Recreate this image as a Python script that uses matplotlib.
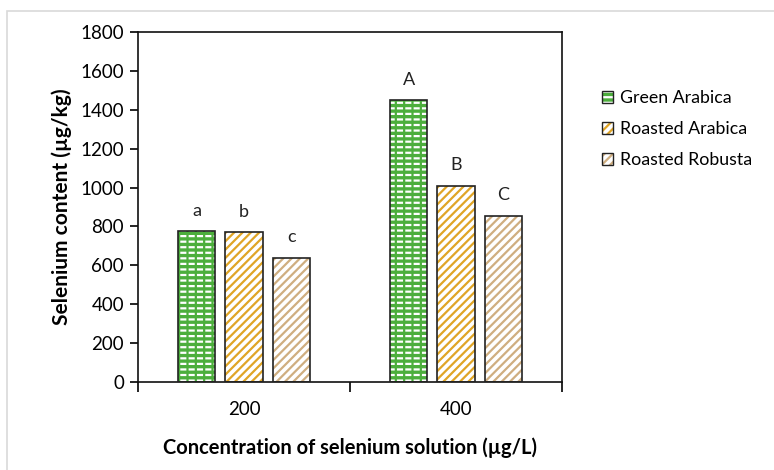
import matplotlib

matplotlib.use("Agg")

import matplotlib.pyplot as plt
import numpy as np
from matplotlib.legend_handler import HandlerTuple
from matplotlib.patches import Patch, Rectangle

concentrations = ["200", "400"]
series = ["Green Arabica", "Roasted Arabica", "Roasted Robusta"]
green_arabica = [775, 1450]
roasted_arabica = [770, 1010]
roasted_robusta = [640, 855]
letters = [["a", "A"], ["b", "B"], ["c", "C"]]

fills = ["#4cae3c", "white", "white"]
hatches = ["---", "////", "////"]
hatch_colors = ["white", "#e0a526", "#cfae80"]

plt.rcParams["font.family"] = ["Lato", "DejaVu Sans"]
plt.rcParams["hatch.linewidth"] = 1.6

fig = plt.figure(figsize=(7.74, 4.70), dpi=100)
ax = fig.add_axes([0.1783, 0.1872, 0.5478, 0.7447])

# light frame round the chart (only top and left edges fall inside the image)
fig.patches.append(Rectangle((7 / 774, -10 / 470), 780 / 774, 469 / 470,
                             transform=fig.transFigure, fill=False,
                             edgecolor="#d9d9d9", linewidth=1.2))

x = np.arange(len(concentrations))
width = 0.175
step = 0.222
handles = []
for i, vals in enumerate([green_arabica, roasted_arabica, roasted_robusta]):
    pos = x + (i - 1) * step
    ax.bar(pos, vals, width, color=fills[i], hatch=hatches[i],
           edgecolor=hatch_colors[i], linewidth=0, zorder=2)
    if i == 0:
        # green vertical strokes break the white lines into short dashes
        ax.bar(pos, vals, width, fill=False, hatch="||",
               edgecolor=fills[0], linewidth=0, zorder=2.5)
    ax.bar(pos, vals, width, fill=False, edgecolor="#222222",
           linewidth=1.2, zorder=3)
    for p, v, lab in zip(pos, vals, letters[i]):
        ax.annotate(lab, (p, v), xytext=(0, 9), textcoords="offset points",
                    ha="center", va="bottom", fontsize=13, color="#222222")
    handles.append((Patch(facecolor=fills[i], hatch=hatches[i],
                          edgecolor=hatch_colors[i], linewidth=0),
                    Patch(fill=False, edgecolor="#222222", linewidth=1.0)))

ax.set_xlim(-0.5, 1.5)
ax.set_ylim(0, 1800)
ax.set_yticks(np.arange(0, 1801, 200))

ax.set_xticks([-0.5, 0.5, 1.5])
ax.set_xticklabels([])
ax.set_xticks(x, minor=True)
ax.set_xticklabels(concentrations, minor=True)
ax.tick_params(axis="x", which="major", length=7, width=1.2, direction="out")
ax.tick_params(axis="x", which="minor", length=0, pad=14, labelsize=13.5)
ax.tick_params(axis="y", length=6, width=1.2, labelsize=13.5, pad=4)

for s in ax.spines.values():
    s.set_linewidth(1.2)
    s.set_color("#111111")

ax.set_ylabel("Selenium content (µg/kg)", fontsize=15, fontweight="bold",
              labelpad=6)
ax.set_xlabel("Concentration of selenium solution (µg/L)", fontsize=14.5,
              fontweight="bold", labelpad=14)

fig.legend(handles, series, loc="upper left", bbox_to_anchor=(0.757, 0.842),
           frameon=False, fontsize=12.8, handlelength=0.65, handleheight=0.65,
           handletextpad=0.35, labelspacing=0.85,
           handler_map={tuple: HandlerTuple(ndivide=1, pad=0)})

fig.savefig("out.png", dpi=100)
